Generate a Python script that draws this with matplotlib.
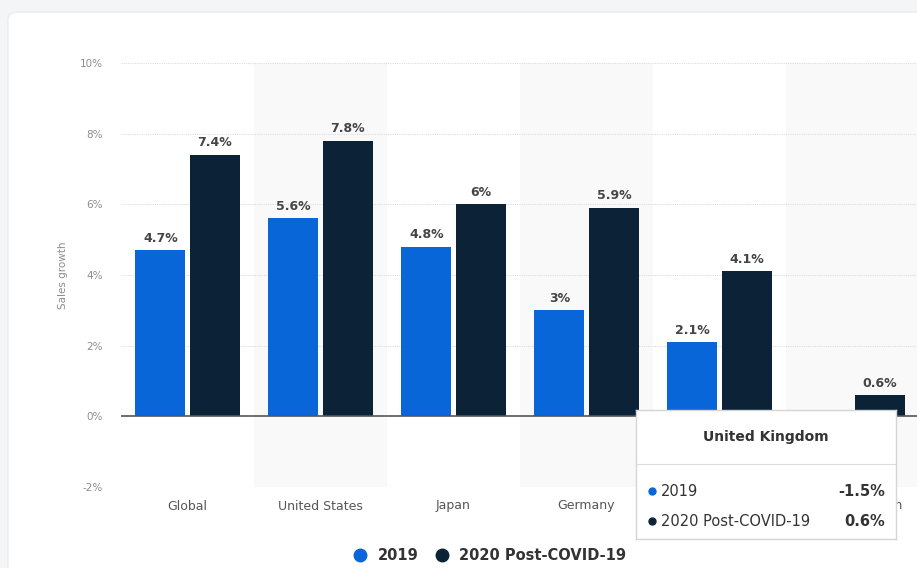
import matplotlib.pyplot as plt
import numpy as np
from matplotlib.patches import FancyBboxPatch
from matplotlib.lines import Line2D

plt.rcParams['font.family'] = ['DejaVu Sans']

regions = ['Global', 'United States', 'Japan', 'Germany', 'France', 'United Kingdom']
growth_2019 = [4.7, 5.6, 4.8, 3.0, 2.1, -1.5]
growth_2020 = [7.4, 7.8, 6.0, 5.9, 4.1, 0.6]
series_names = ['2019', '2020 Post-COVID-19']
yticks = [-2, 0, 2, 4, 6, 8, 10]

blue = '#0866d9'
navy = '#0c2236'

W, H = 917, 568
fig = plt.figure(figsize=(W / 100, H / 100), dpi=100)
fig.patch.set_facecolor('#f3f5f7')

# white card
card = FancyBboxPatch((8 / W, -0.05), 1.0, (H - 12) / H + 0.05,
                      boxstyle='round,pad=0,rounding_size=0.012',
                      transform=fig.transFigure, facecolor='white',
                      edgecolor='#e6e9ec', linewidth=0.8, zorder=0)
fig.add_artist(card)

ax = fig.add_axes([120.5 / W, 81 / H, 798 / W, 424 / H])
ax.set_facecolor('none')
x = np.arange(len(regions))

# alternate column shading
for i in x:
    if i % 2 == 1:
        ax.axvspan(i - 0.5, i + 0.5, color='#f9f9f9', zorder=0, lw=0)

for t in yticks:
    if t != 0:
        ax.axhline(t, color='#dddddd', lw=0.8, ls=(0, (1, 1)), zorder=1)
ax.axhline(0, color='#555555', lw=1.2, zorder=3)

b1 = ax.bar(x - 0.2, growth_2019, width=0.375, color=blue, zorder=2)
b2 = ax.bar(x + 0.21, growth_2020, width=0.375, color=navy, zorder=2)

for bars, vals in ((b1, growth_2019), (b2, growth_2020)):
    for rect, v in zip(bars, vals):
        label = f'{v:g}%'
        cx = rect.get_x() + rect.get_width() / 2
        if v >= 0:
            ax.annotate(label, (cx, v), xytext=(0, 4), textcoords='offset points',
                        ha='center', va='bottom', fontsize=9, fontweight='bold',
                        color='#454545', zorder=4)
        else:
            ax.annotate(label, (cx, v), xytext=(0, -4), textcoords='offset points',
                        ha='center', va='top', fontsize=9, fontweight='bold',
                        color='#454545', zorder=4)

ax.set_xlim(-0.5, len(regions) - 0.5)
ax.set_ylim(-2, 10)
ax.set_yticks(yticks)
ax.set_yticklabels([f'{t}%' for t in yticks], fontsize=7.5, color='#8c8c8c')
ax.set_xticks(x)
ax.set_xticklabels(regions, fontsize=9, color='#555555')
ax.tick_params(axis='y', length=0, pad=13)
ax.tick_params(axis='x', length=0, pad=9)
for s in ax.spines.values():
    s.set_visible(False)
ax.set_ylabel('Sales growth', fontsize=7.5, color='#8c8c8c', labelpad=8)

# legend
handles = [Line2D([], [], marker='o', ls='', markersize=9, color=c) for c in (blue, navy)]
fig.legend(handles, series_names, loc='center', bbox_to_anchor=(486 / W, 1 - 556 / H),
           ncol=2, frameon=False, handletextpad=0.2, columnspacing=0.6,
           prop={'weight': 'bold', 'size': 10.5})
for txt in fig.legends[0].get_texts():
    txt.set_color('#333333')

# hover tooltip for United Kingdom
tx0, ty0, tx1, ty1 = 636, 410, 896, 539
tip = fig.add_axes([tx0 / W, 1 - ty1 / H, (tx1 - tx0) / W, (ty1 - ty0) / H])
tip.set_xlim(tx0, tx1)
tip.set_ylim(ty1, ty0)
tip.set_xticks([])
tip.set_yticks([])
tip.set_facecolor('white')
for s in tip.spines.values():
    s.set_color('#d5d5d5')
    s.set_linewidth(1)
tip.text(766, 437, regions[5], ha='center', va='center', fontsize=10,
         fontweight='bold', color='#333333')
tip.plot([tx0, tx1], [464, 464], color='#dcdcdc', lw=0.8)
rows = [(491, blue, series_names[0], growth_2019[5]),
        (521, navy, series_names[1], growth_2020[5])]
for yy, c, name, v in rows:
    tip.plot(652, yy, 'o', color=c, markersize=5)
    tip.text(661, yy, name, ha='left', va='center', fontsize=10.5, color='#333333')
    tip.text(885, yy, f'{v:g}%', ha='right', va='center', fontsize=10.5,
             fontweight='bold', color='#333333')

fig.savefig('out.png', dpi=100, facecolor=fig.get_facecolor())
